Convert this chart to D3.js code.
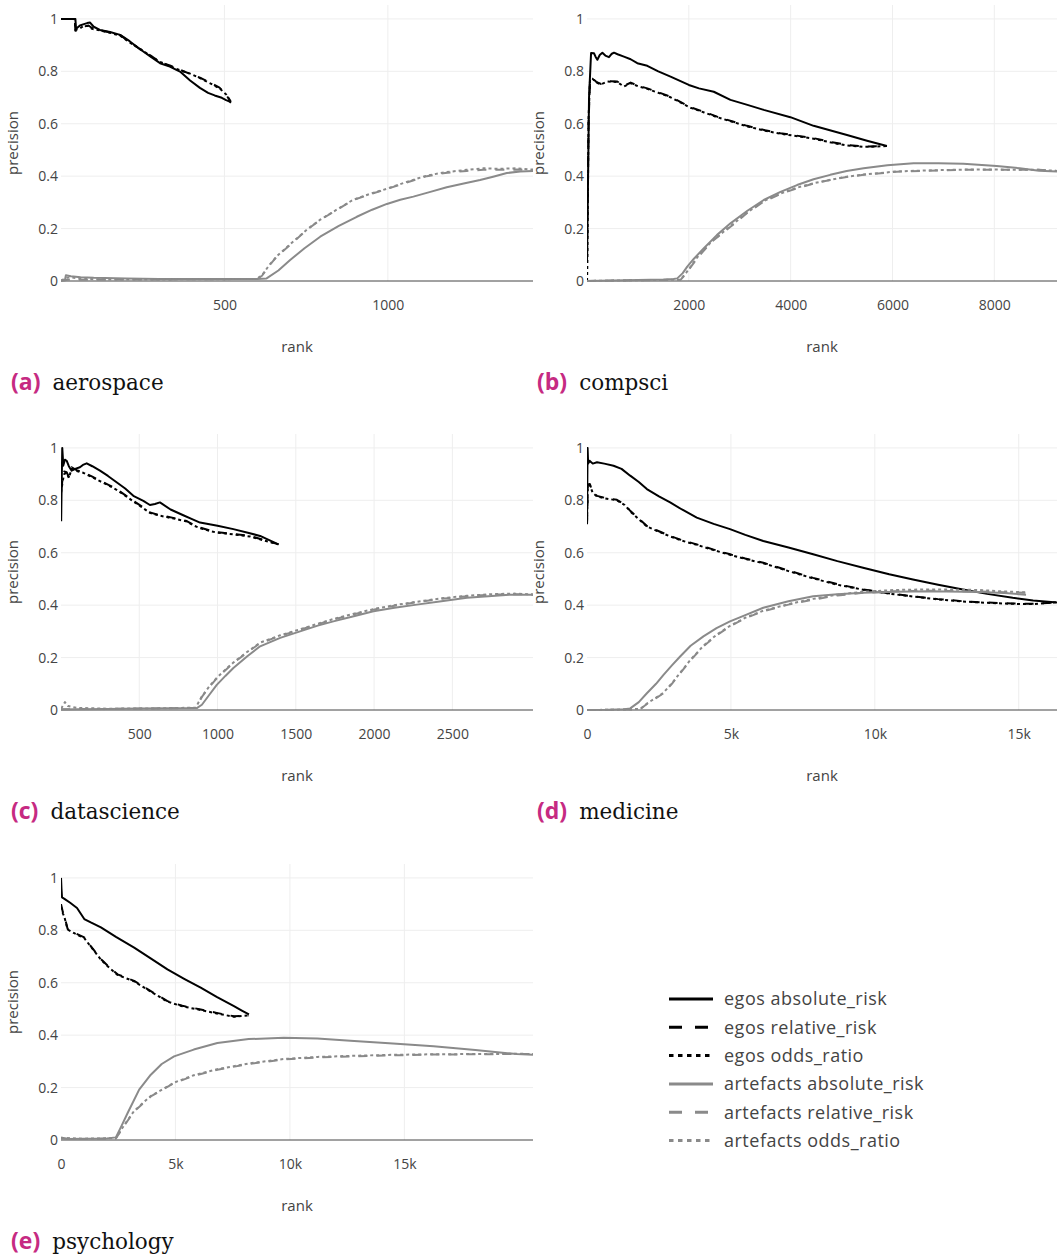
<!DOCTYPE html>
<html>
<head>
<meta charset="utf-8">
<script src="https://cdn.jsdelivr.net/npm/d3@7"></script>
<style>
body { margin: 0; background: #fff; }
svg { display: block; }
</style>
</head>
<body>
<svg width="1057" height="1259"></svg>
<script>
// ---- data: [rank, precision] pairs ----

// (a) aerospace
var aeroEgosAbs = [[0,1],[44,1],[46,0.962],[58,0.975],[70,0.98],[80,0.984],[89,0.986],[100,0.97],[119,0.958],[150,0.95],[181,0.939],[210,0.915],[242,0.884],[272,0.858],[303,0.831],[333,0.818],[364,0.799],[395,0.765],[425,0.737],[450,0.718],[470,0.708],[492,0.699],[505,0.69],[514,0.686],[520,0.68]];
var aeroEgosRel = [[0,1],[42,1],[44,0.955],[56,0.96],[68,0.97],[84,0.975],[95,0.965],[119,0.957],[150,0.948],[181,0.938],[210,0.912],[242,0.884],[272,0.862],[303,0.835],[333,0.822],[364,0.806],[395,0.79],[425,0.776],[455,0.757],[485,0.738],[505,0.71],[520,0.684]];
var aeroEgosOdds = [[0,1],[42,1],[44,0.958],[56,0.962],[68,0.972],[84,0.973],[95,0.962],[119,0.956],[150,0.947],[181,0.936],[210,0.91],[242,0.886],[272,0.86],[303,0.836],[333,0.82],[364,0.804],[395,0.791],[425,0.774],[455,0.755],[485,0.735],[505,0.712],[520,0.684]];
var aeroArtAbs = [[0,0.003],[12,0.003],[15,0.022],[30,0.018],[60,0.014],[100,0.012],[200,0.01],[300,0.008],[400,0.008],[500,0.008],[600,0.008],[629,0.01],[665,0.04],[701,0.08],[745,0.125],[793,0.169],[850,0.21],[905,0.245],[952,0.272],[997,0.294],[1038,0.31],[1078,0.322],[1130,0.34],[1180,0.358],[1232,0.372],[1282,0.385],[1322,0.398],[1364,0.412],[1405,0.418],[1444,0.42]];
var aeroArtRel = [[0,0],[20,0.005],[100,0.005],[300,0.006],[500,0.007],[599,0.008],[615,0.02],[638,0.06],[660,0.093],[712,0.15],[752,0.195],[793,0.233],[842,0.27],[894,0.309],[944,0.33],[997,0.351],[1055,0.375],[1119,0.4],[1175,0.412],[1241,0.42],[1292,0.424],[1343,0.424],[1395,0.425],[1444,0.422]];
var aeroArtOdds = [[0,0.002],[18,0.012],[30,0.014],[60,0.008],[150,0.006],[300,0.006],[500,0.007],[599,0.008],[615,0.022],[638,0.062],[660,0.094],[712,0.152],[752,0.196],[793,0.234],[842,0.271],[894,0.31],[944,0.332],[997,0.352],[1055,0.377],[1119,0.402],[1175,0.415],[1241,0.424],[1292,0.43],[1343,0.428],[1395,0.43],[1444,0.425]];

// (b) compsci
var csEgosAbs = [[1,0.08],[40,0.7],[80,0.87],[137,0.869],[170,0.855],[204,0.844],[250,0.862],[302,0.871],[360,0.86],[431,0.854],[480,0.866],[530,0.871],[600,0.865],[725,0.856],[857,0.846],[988,0.831],[1184,0.821],[1400,0.8],[1641,0.78],[2000,0.748],[2200,0.735],[2490,0.722],[2818,0.691],[3150,0.672],[3471,0.653],[3994,0.625],[4451,0.592],[5106,0.557],[5500,0.535],[5890,0.515]];
var csEgosRel = [[1,0.1],[30,0.6],[60,0.767],[106,0.774],[180,0.76],[270,0.752],[400,0.763],[596,0.761],[725,0.744],[857,0.757],[1000,0.745],[1184,0.735],[1400,0.72],[1641,0.703],[2033,0.663],[2300,0.645],[2556,0.627],[3144,0.592],[3500,0.575],[3798,0.564],[4451,0.545],[4800,0.53],[5106,0.519],[5433,0.513],[5700,0.514],[5890,0.515]];
var csEgosOdds = [[1,0],[8,0.08],[30,0.62],[60,0.77],[106,0.772],[180,0.758],[270,0.75],[400,0.761],[596,0.759],[725,0.742],[857,0.755],[1000,0.743],[1184,0.733],[1400,0.718],[1641,0.701],[2033,0.661],[2300,0.643],[2556,0.625],[3144,0.59],[3500,0.573],[3798,0.562],[4451,0.543],[4800,0.528],[5106,0.517],[5433,0.512],[5700,0.513],[5890,0.515]];
var csArtAbs = [[1,0],[500,0.002],[1000,0.004],[1500,0.006],[1700,0.008],[1773,0.01],[1880,0.03],[1969,0.055],[2100,0.085],[2295,0.125],[2550,0.175],[2818,0.22],[3150,0.268],[3471,0.309],[3800,0.34],[4125,0.366],[4450,0.388],[4778,0.405],[5100,0.42],[5433,0.43],[5900,0.442],[6413,0.449],[6900,0.449],[7392,0.447],[8046,0.439],[8500,0.43],[8878,0.421],[9231,0.418]];
var csArtRel = [[1,0],[1000,0.003],[1837,0.004],[1950,0.03],[2165,0.087],[2450,0.15],[2818,0.207],[3150,0.26],[3471,0.303],[3800,0.332],[4125,0.354],[4450,0.372],[4778,0.385],[5100,0.397],[5433,0.405],[6086,0.417],[6700,0.421],[7392,0.424],[8100,0.424],[8878,0.424],[9231,0.42]];
var csArtOdds = [[1,0],[1000,0.003],[1837,0.005],[1950,0.032],[2165,0.09],[2450,0.152],[2818,0.209],[3150,0.262],[3471,0.305],[3800,0.334],[4125,0.356],[4450,0.373],[4778,0.386],[5100,0.398],[5433,0.406],[6086,0.418],[6700,0.422],[7392,0.425],[8100,0.425],[8878,0.424],[9231,0.42]];

// (c) datascience
var dsEgosAbs = [[1,0.72],[4,0.85],[8,1.0],[12,0.96],[14,0.932],[25,0.955],[36,0.951],[50,0.93],[68,0.913],[90,0.92],[121,0.926],[140,0.935],[164,0.941],[200,0.93],[249,0.913],[300,0.893],[355,0.869],[410,0.845],[462,0.817],[526,0.798],[568,0.782],[600,0.786],[632,0.792],[700,0.765],[781,0.743],[830,0.73],[888,0.715],[1000,0.703],[1101,0.69],[1200,0.675],[1272,0.664],[1330,0.648],[1389,0.632]];
var dsEgosRel = [[1,0.84],[10,0.88],[20,0.91],[36,0.907],[50,0.89],[68,0.926],[100,0.915],[142,0.907],[200,0.89],[249,0.875],[300,0.86],[355,0.843],[410,0.82],[462,0.798],[520,0.775],[568,0.754],[620,0.745],[675,0.738],[740,0.73],[803,0.721],[850,0.705],[888,0.696],[950,0.685],[995,0.679],[1100,0.672],[1208,0.664],[1300,0.648],[1389,0.632]];
var dsEgosOdds = [[1,0.83],[10,0.87],[20,0.9],[36,0.905],[50,0.885],[68,0.92],[100,0.912],[142,0.905],[200,0.888],[249,0.873],[300,0.858],[355,0.84],[410,0.818],[462,0.796],[520,0.772],[568,0.752],[620,0.743],[675,0.736],[740,0.728],[803,0.719],[850,0.703],[888,0.694],[950,0.683],[995,0.677],[1100,0.67],[1208,0.662],[1300,0.646],[1389,0.632]];
var dsArtAbs = [[1,0.002],[100,0.003],[300,0.004],[500,0.006],[700,0.007],[870,0.008],[900,0.02],[950,0.06],[995,0.096],[1050,0.13],[1101,0.16],[1190,0.205],[1272,0.243],[1400,0.275],[1527,0.3],[1640,0.322],[1740,0.338],[1870,0.358],[1996,0.377],[2130,0.39],[2273,0.402],[2430,0.415],[2593,0.428],[2730,0.434],[2864,0.44],[3015,0.44]];
var dsArtRel = [[1,0.003],[300,0.004],[600,0.006],[860,0.008],[900,0.05],[950,0.09],[995,0.121],[1050,0.152],[1101,0.179],[1190,0.22],[1272,0.255],[1400,0.283],[1527,0.306],[1640,0.327],[1740,0.345],[1870,0.365],[1996,0.383],[2130,0.398],[2273,0.411],[2430,0.424],[2593,0.434],[2750,0.44],[2900,0.442],[3015,0.44]];
var dsArtOdds = [[1,0.005],[25,0.03],[45,0.015],[100,0.008],[300,0.005],[600,0.006],[860,0.009],[900,0.052],[950,0.092],[995,0.123],[1050,0.154],[1101,0.181],[1190,0.222],[1272,0.257],[1400,0.285],[1527,0.308],[1640,0.329],[1740,0.347],[1870,0.367],[1996,0.385],[2130,0.4],[2273,0.413],[2430,0.426],[2593,0.436],[2750,0.442],[2900,0.444],[3015,0.441]];

// (d) medicine
var medEgosAbs = [[1,0.709],[20,1.0],[40,0.94],[90,0.951],[200,0.94],[347,0.945],[600,0.94],[922,0.932],[1200,0.92],[1501,0.894],[1800,0.87],[2080,0.843],[2500,0.815],[2889,0.792],[3300,0.765],[3814,0.734],[4400,0.71],[4969,0.69],[5500,0.668],[6125,0.645],[7000,0.62],[7858,0.594],[8700,0.568],[9592,0.543],[10500,0.518],[11325,0.498],[12200,0.478],[13058,0.46],[13900,0.443],[14792,0.428],[15500,0.418],[16330,0.41]];
var medEgosRel = [[1,0.71],[30,0.86],[100,0.862],[200,0.83],[347,0.817],[600,0.81],[1038,0.802],[1300,0.785],[1501,0.76],[1800,0.73],[2080,0.702],[2500,0.682],[2889,0.664],[3300,0.648],[3814,0.632],[4400,0.612],[4969,0.594],[5500,0.578],[6125,0.562],[7000,0.532],[7858,0.504],[8700,0.48],[9592,0.46],[10500,0.445],[11325,0.434],[12200,0.423],[13058,0.415],[13900,0.41],[14792,0.406],[15500,0.405],[16330,0.411]];
var medEgosOdds = [[1,0.72],[30,0.855],[100,0.858],[200,0.828],[347,0.815],[600,0.808],[1038,0.8],[1300,0.783],[1501,0.758],[1800,0.728],[2080,0.7],[2500,0.68],[2889,0.662],[3300,0.646],[3814,0.63],[4400,0.61],[4969,0.592],[5500,0.576],[6125,0.56],[7000,0.53],[7858,0.502],[8700,0.478],[9592,0.459],[10500,0.444],[11325,0.433],[12200,0.422],[13058,0.414],[13900,0.409],[14792,0.405],[15500,0.404],[16330,0.411]];
var medArtAbs = [[1,0],[800,0.001],[1300,0.003],[1501,0.006],[1800,0.03],[2080,0.064],[2400,0.1],[2658,0.134],[2950,0.17],[3236,0.204],[3600,0.245],[4045,0.281],[4500,0.312],[4969,0.338],[5500,0.362],[6125,0.39],[7000,0.415],[7858,0.434],[8700,0.442],[9592,0.447],[10700,0.451],[11903,0.453],[13636,0.45],[14500,0.446],[15254,0.44]];
var medArtRel = [[1,0],[1000,0.001],[1849,0.003],[2100,0.025],[2400,0.045],[2658,0.064],[2950,0.1],[3236,0.14],[3600,0.19],[4045,0.243],[4500,0.285],[4969,0.319],[5500,0.35],[6125,0.377],[7000,0.402],[7858,0.421],[8700,0.437],[9592,0.447],[10700,0.453],[11903,0.455],[13636,0.452],[14500,0.449],[15300,0.447]];
var medArtOdds = [[1,0],[1000,0.001],[1849,0.004],[2100,0.026],[2400,0.047],[2658,0.066],[2950,0.102],[3236,0.142],[3600,0.192],[4045,0.245],[4500,0.287],[4969,0.321],[5500,0.352],[6125,0.379],[7000,0.404],[7858,0.424],[8700,0.44],[9592,0.451],[10700,0.458],[11903,0.46],[13636,0.458],[14500,0.452],[15300,0.449]];

// (e) psychology
var psyEgosAbs = [[1,1.0],[20,0.96],[44,0.926],[150,0.92],[400,0.905],[700,0.885],[1017,0.843],[1300,0.83],[1744,0.811],[2400,0.775],[3196,0.734],[3900,0.694],[4650,0.651],[5400,0.614],[6103,0.581],[6800,0.546],[7556,0.511],[7900,0.494],[8210,0.479]];
var psyEgosRel = [[1,0.9],[80,0.87],[145,0.856],[290,0.805],[600,0.79],[1017,0.773],[1300,0.74],[1744,0.69],[2100,0.66],[2470,0.632],[3196,0.607],[3923,0.568],[4650,0.53],[5300,0.512],[6103,0.498],[6800,0.485],[7556,0.472],[7900,0.474],[8210,0.475]];
var psyEgosOdds = [[1,0.89],[80,0.865],[145,0.852],[290,0.803],[600,0.788],[1017,0.77],[1300,0.738],[1744,0.688],[2100,0.658],[2470,0.63],[3196,0.605],[3923,0.566],[4650,0.528],[5300,0.51],[6103,0.496],[6800,0.483],[7556,0.47],[7900,0.473],[8210,0.475]];
var psyArtAbs = [[1,0.01],[300,0.004],[1000,0.005],[2000,0.006],[2398,0.01],[2650,0.055],[2906,0.102],[3415,0.192],[3923,0.249],[4400,0.29],[4940,0.319],[5800,0.345],[6830,0.37],[8200,0.385],[9736,0.39],[11200,0.387],[12642,0.379],[14500,0.368],[16276,0.358],[18100,0.343],[19909,0.328],[20620,0.325]];
var psyArtRel = [[1,0.005],[1000,0.004],[2398,0.006],[2800,0.06],[3196,0.109],[3923,0.166],[4940,0.217],[5800,0.245],[6830,0.268],[8200,0.29],[9736,0.307],[11200,0.315],[12642,0.319],[14500,0.323],[16276,0.326],[18100,0.327],[19909,0.328],[20620,0.328]];
var psyArtOdds = [[1,0.008],[1000,0.005],[2398,0.007],[2800,0.062],[3196,0.111],[3923,0.168],[4940,0.219],[5800,0.247],[6830,0.27],[8200,0.292],[9736,0.309],[11200,0.317],[12642,0.321],[14500,0.325],[16276,0.327],[18100,0.328],[19909,0.329],[20620,0.328]];

var seriesNames = ["egos absolute_risk", "egos relative_risk", "egos odds_ratio",
                   "artefacts absolute_risk", "artefacts relative_risk", "artefacts odds_ratio"];
var yTicks = [0, 0.2, 0.4, 0.6, 0.8, 1];

var panels = [
  {tag: "(a)", name: "aerospace", row: 0, left: 61, right: 533, xMax: 1444, ticks: [500, 1000],
   data: [aeroEgosAbs, aeroEgosRel, aeroEgosOdds, aeroArtAbs, aeroArtRel, aeroArtOdds]},
  {tag: "(b)", name: "compsci", row: 0, left: 587, right: 1057, xMax: 9231, ticks: [2000, 4000, 6000, 8000],
   data: [csEgosAbs, csEgosRel, csEgosOdds, csArtAbs, csArtRel, csArtOdds]},
  {tag: "(c)", name: "datascience", row: 1, left: 61, right: 533, xMax: 3015, ticks: [500, 1000, 1500, 2000, 2500],
   data: [dsEgosAbs, dsEgosRel, dsEgosOdds, dsArtAbs, dsArtRel, dsArtOdds]},
  {tag: "(d)", name: "medicine", row: 1, left: 587, right: 1057, xMax: 16330, ticks: [0, 5000, 10000, 15000],
   data: [medEgosAbs, medEgosRel, medEgosOdds, medArtAbs, medArtRel, medArtOdds]},
  {tag: "(e)", name: "psychology", row: 2, left: 61, right: 533, xMax: 20620, ticks: [0, 5000, 10000, 15000],
   data: [psyEgosAbs, psyEgosRel, psyEgosOdds, psyArtAbs, psyArtRel, psyArtOdds]}
];

// ---- styles ----
var lineColor = ["#000", "#000", "#000", "#8a8a8a", "#8a8a8a", "#8a8a8a"];
var lineDash = [null, "9,9", "3,3", null, "9,9", "3,3"];
var legendDash = [null, "13,13", "4.5,4.5", null, "13,13", "4.5,4.5"];
var rowTop = [0, 429, 859];
var sans = "'Open Sans', sans-serif";

var svg = d3.select("svg");

panels.forEach(function(p, idx) {
  var off = rowTop[p.row];
  var top = off + 5, bottom = off + 281;
  var x = d3.scaleLinear().domain([0, p.xMax]).range([p.left, p.right]);
  var y = d3.scaleLinear().domain([0, 1.053]).range([bottom, top]);
  var useK = p.xMax > 12000;
  var g = svg.append("g");

  g.append("clipPath").attr("id", "clip" + idx)
    .append("rect")
    .attr("x", p.left).attr("y", top - 2)
    .attr("width", p.right - p.left).attr("height", bottom - top + 4);

  // gridlines
  g.append("g").selectAll("line").data(yTicks.slice(1)).enter().append("line")
    .attr("x1", p.left).attr("x2", p.right)
    .attr("y1", d => y(d)).attr("y2", d => y(d))
    .attr("stroke", "#eee").attr("stroke-width", 1);
  g.append("g").selectAll("line").data(p.ticks.filter(t => t > 0)).enter().append("line")
    .attr("x1", d => x(d)).attr("x2", d => x(d))
    .attr("y1", top).attr("y2", bottom)
    .attr("stroke", "#eee").attr("stroke-width", 1);

  // y axis labels
  var ya = g.append("g")
    .attr("transform", "translate(" + p.left + ",0)")
    .call(d3.axisLeft(y).tickValues(yTicks)
      .tickFormat(d => (d == 0 || d == 1) ? String(d) : d3.format(".1f")(d))
      .tickSize(0).tickPadding(3));
  ya.select(".domain").remove();
  ya.attr("font-family", sans).attr("font-size", 14).style("color", "#444");

  // x axis labels
  var xa = g.append("g")
    .attr("transform", "translate(0," + bottom + ")")
    .call(d3.axisBottom(x).tickValues(p.ticks)
      .tickFormat(d => (useK && d > 0) ? (d / 1000) + "k" : String(d))
      .tickSize(0).tickPadding(19));
  xa.select(".domain").remove();
  xa.attr("font-family", sans).attr("font-size", 14).style("color", "#444");

  // zero line
  g.append("line")
    .attr("x1", p.left).attr("x2", p.right)
    .attr("y1", y(0)).attr("y2", y(0))
    .attr("stroke", "#444").attr("stroke-width", 1);

  // series
  var line = d3.line().x(d => x(d[0])).y(d => y(d[1]));
  var lg = g.append("g").attr("clip-path", "url(#clip" + idx + ")");
  p.data.forEach(function(s, i) {
    lg.append("path")
      .attr("d", line(s))
      .attr("fill", "none")
      .attr("stroke", lineColor[i])
      .attr("stroke-width", 2)
      .attr("stroke-linejoin", "round")
      .attr("stroke-dasharray", lineDash[i]);
  });

  // axis titles
  g.append("text")
    .attr("transform", "translate(" + (p.left - 43) + "," + ((top + bottom) / 2) + ") rotate(-90)")
    .attr("text-anchor", "middle")
    .attr("font-family", sans).attr("font-size", 15).attr("fill", "#444")
    .text("precision");
  g.append("text")
    .attr("x", (p.left + p.right) / 2).attr("y", off + 352)
    .attr("text-anchor", "middle")
    .attr("font-family", sans).attr("font-size", 15).attr("fill", "#444")
    .text("rank");

  // caption
  var cx = p.left < 300 ? 11 : 537;
  var tag = g.append("text")
    .attr("x", cx).attr("y", off + 390)
    .attr("font-family", sans).attr("font-weight", "bold")
    .attr("font-size", 23).attr("fill", "#c62a82")
    .text(p.tag);
  var tw = tag.node().getComputedTextLength();
  g.append("text")
    .attr("x", cx + tw + 12).attr("y", off + 390)
    .attr("font-family", "'DejaVu Serif', serif")
    .attr("font-size", 21.5).attr("fill", "#111")
    .text(p.name);
});

// ---- legend ----
var legend = svg.append("g");
seriesNames.forEach(function(n, i) {
  var ly = 999 + i * 28.3;
  legend.append("line")
    .attr("x1", 669).attr("x2", 713)
    .attr("y1", ly).attr("y2", ly)
    .attr("stroke", lineColor[i]).attr("stroke-width", 3)
    .attr("stroke-dasharray", legendDash[i]);
  legend.append("text")
    .attr("x", 724).attr("y", ly).attr("dy", "0.35em")
    .attr("font-family", sans).attr("font-size", 18)
    .attr("letter-spacing", "0.5px")
    .attr("fill", "#444")
    .text(n);
});
</script>
</body>
</html>
